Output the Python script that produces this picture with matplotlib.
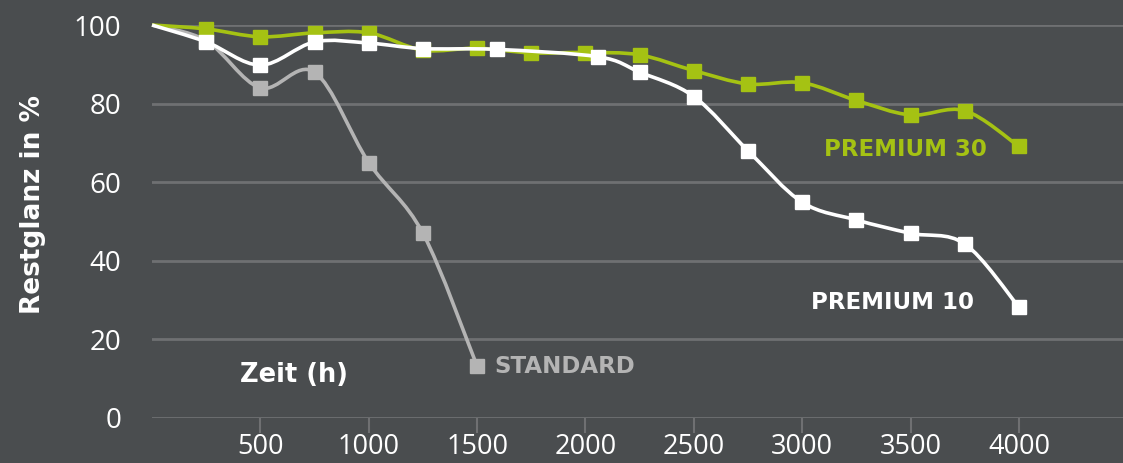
"""
Restglanz over time for three coating grades, smoothed lines with square markers.
"""

import numpy as np
import matplotlib
matplotlib.use("Agg")
import matplotlib.pyplot as plt
from matplotlib.path import Path
from matplotlib.patches import PathPatch

# data
hours_p30 = [0, 250, 500, 750, 1000, 1250, 1500, 1750, 2000, 2250, 2500, 2750,
             3000, 3250, 3500, 3750, 4000]
gloss_p30 = [100, 99, 97, 98, 98, 93.6, 94.1, 92.9, 93, 92.4, 88.4, 85, 85.3,
             80.8, 77.1, 78.2, 69.1]

hours_p10 = [0, 250, 500, 750, 1000, 1250, 1590, 2060, 2250, 2500, 2750, 3000,
             3250, 3500, 3750, 4000]
gloss_p10 = [100, 95.7, 89.8, 95.7, 95.4, 94, 93.8, 91.9, 88, 81.8, 68, 54.9,
             50.4, 47, 44.3, 28.2]

hours_std = [0, 250, 500, 750, 1000, 1250, 1500]
gloss_std = [100, 96, 84, 88, 65, 47, 13.2]

x_ticks = [500, 1000, 1500, 2000, 2500, 3000, 3500, 4000]
y_ticks = [0, 20, 40, 60, 80, 100]

BG = "#4a4d4f"
GRID = "#6f7072"
GREEN = "#a5c213"
WHITE = "#ffffff"
GREY = "#b4b4b4"


def smooth_path(x, y):
    """Catmull-Rom curve through the points, as cubic Bezier segments."""
    p = np.column_stack([x, y]).astype(float)
    ext = np.vstack([p[0], p, p[-1]])
    verts = [p[0]]
    codes = [Path.MOVETO]
    for i in range(1, len(ext) - 2):
        c1 = ext[i] + (ext[i + 1] - ext[i - 1]) / 6.0
        c2 = ext[i + 1] - (ext[i + 2] - ext[i]) / 6.0
        verts += [c1, c2, ext[i + 1]]
        codes += [Path.CURVE4] * 3
    return Path(verts, codes)


fig = plt.figure(figsize=(11.23, 4.63), dpi=100, facecolor=BG)
ax = fig.add_axes([152 / 1123, 1 - 418 / 463, 1 - 152 / 1123, (418 - 25) / 463])
ax.set_facecolor(BG)

ax.set_xlim(0, 4480)
ax.set_ylim(0, 100)
for s in ax.spines.values():
    s.set_visible(False)

for yv in y_ticks:
    ax.axhline(yv, color=GRID, lw=2, zorder=1)

series = [
    (hours_std, gloss_std, GREY),
    (hours_p30, gloss_p30, GREEN),
    (hours_p10, gloss_p10, WHITE),
]
for i, (xs, ys, col) in enumerate(series):
    patch = PathPatch(smooth_path(xs, ys), facecolor="none", edgecolor=col,
                      lw=2.6, zorder=3 + i, clip_on=False)
    ax.add_patch(patch)
    ax.plot(xs[1:], ys[1:], ls="none", marker="s", ms=10, color=col,
            mec=col, zorder=3 + i, clip_on=False)

ax.set_xticks(x_ticks)
ax.set_yticks(y_ticks)
ax.tick_params(axis="x", colors=GRID, length=11, width=1.5, direction="out",
               pad=0, labelcolor=WHITE, labelsize=19.5)
ax.tick_params(axis="y", length=0, pad=22, labelcolor=WHITE, labelsize=20)
for lab in ax.get_xticklabels() + ax.get_yticklabels():
    lab.set_fontfamily("Open Sans")

fig.text(33 / 1123, 1 - 205 / 463, "Restglanz in %", rotation=90, color=WHITE,
         fontsize=19, fontweight="bold", ha="center", va="center")

ax.text(405, 11, "Zeit (h)", color=WHITE, fontsize=18.5,
        fontweight="bold", ha="left", va="center")
ax.text(1580, 13.2, "STANDARD", color=GREY, fontsize=16.5, fontweight="bold",
        ha="left", va="center")
ax.text(3040, 29.5, "PREMIUM 10", color=WHITE, fontsize=16.5, fontweight="bold",
        ha="left", va="center")
ax.text(3100, 68.2, "PREMIUM 30", color=GREEN, fontsize=16.5, fontweight="bold",
        ha="left", va="center")

fig.savefig("out.png", dpi=100, facecolor=BG)
